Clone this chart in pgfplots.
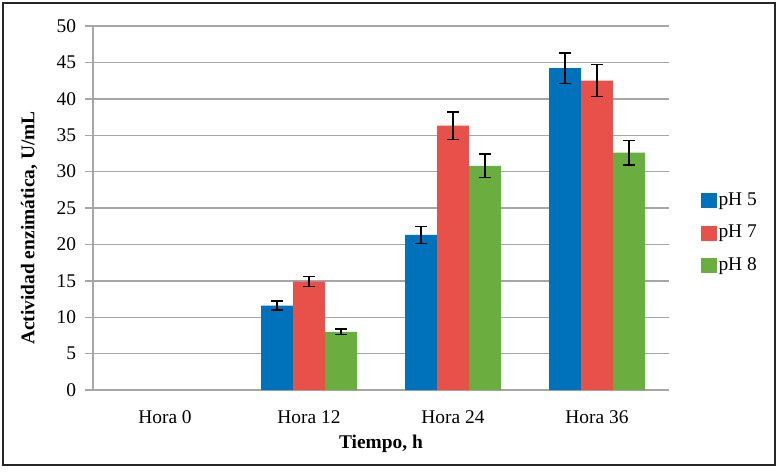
\documentclass[border=0pt]{standalone}
\usepackage{pgfplots}
\pgfplotsset{compat=1.18}
\usepackage{fontspec}
\setmainfont{Liberation Serif}
\definecolor{cblue}{RGB}{0,114,188}
\definecolor{cred}{RGB}{232,80,74}
\definecolor{cgreen}{RGB}{106,174,64}
\definecolor{gridgray}{RGB}{166,166,166}
\begin{document}
\fontsize{9.7}{11.5}\selectfont
\begin{tikzpicture}
\begin{axis}[
  name=ax,
  scale only axis,
  width=288pt, height=182pt,
  ymin=0, ymax=50, ytick={0,5,...,50},
  xmin=-0.5, xmax=3.5,
  xtick={0,1,2,3},
  xticklabels={Hora 0,Hora 12,Hora 24,Hora 36},
  /pgf/number format/assume math mode=true,
  ybar=0pt, bar width=16pt,
  axis x line*=bottom, axis y line*=left,
  axis line style={-, gridgray, line width=0.7pt},
  ymajorgrids, grid style={gridgray, line width=0.7pt},
  major x tick style={draw=none},
  major y tick style={gridgray, line width=0.7pt},
  tick align=outside, major tick length=4pt,
  yticklabel style={xshift=-1pt},
  xticklabel style={yshift=-3pt},
  xlabel={\bfseries Tiempo, h},
  ylabel={\bfseries Actividad enzimática, U/mL},
  ylabel style={at={(ticklabel cs:0.445)}},
  ylabel shift=3pt,
  xlabel shift=-1pt,
  legend style={at={(1.054,0.431)}, anchor=west, draw=none, fill=none,
    row sep=6.5pt, inner sep=0pt, nodes={inner sep=1pt}},
  legend cell align=left,
  legend image code/.code={\fill[#1] (0pt,-3.75pt) rectangle (8pt,3.75pt);},
  error bars/y dir=both, error bars/y explicit,
  error bars/error bar style={black, line width=0.7pt},
  error bars/error mark options={rotate=90, mark size=3pt, line width=0.7pt, black},
]
\addplot[fill=cblue, draw=none] coordinates {(1,11.6) +- (0,0.6) (2,21.3) +- (0,1.2) (3,44.2) +- (0,2.1)};
\addplot[fill=cred, draw=none] coordinates {(1,14.9) +- (0,0.7) (2,36.3) +- (0,1.9) (3,42.5) +- (0,2.2)};
\addplot[fill=cgreen, draw=none] coordinates {(1,8.0) +- (0,0.4) (2,30.8) +- (0,1.6) (3,32.6) +- (0,1.7)};
\legend{pH 5,pH 7,pH 8}
\end{axis}
\draw[line width=1pt, black!85] ([shift={(-45pt,-37.5pt)}]ax.south west) rectangle ([shift={(53pt,11.5pt)}]ax.north east);
\path ([shift={(-46.5pt,-41pt)}]ax.south west) rectangle ([shift={(57pt,13pt)}]ax.north east);
\end{tikzpicture}
\end{document}
